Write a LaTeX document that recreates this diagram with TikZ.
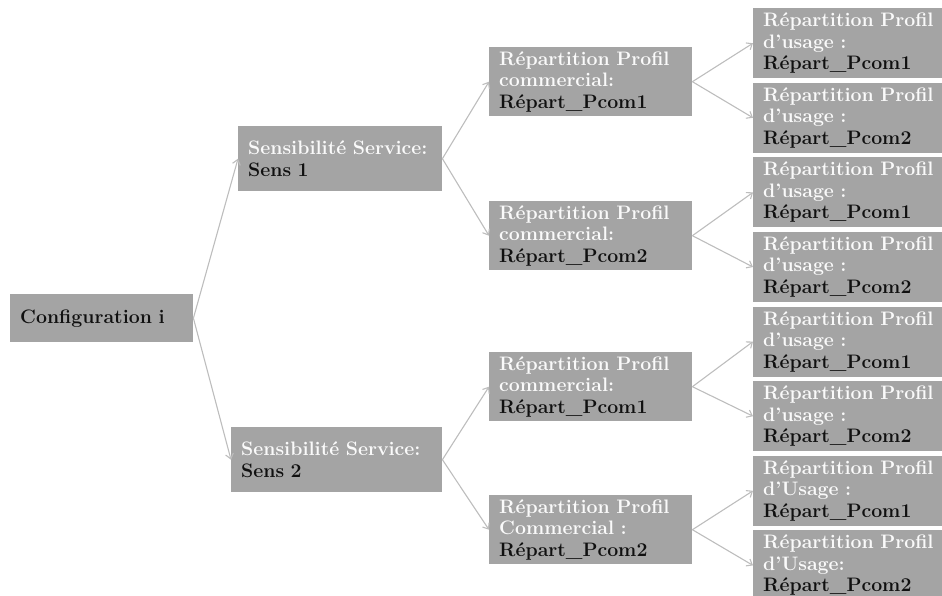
\documentclass[tikz,border=0pt]{standalone}
\usetikzlibrary{arrows.meta}
\definecolor{boxgrey}{HTML}{A4A4A4}
\definecolor{linkgrey}{HTML}{BDBDBD}
\definecolor{textwhite}{HTML}{FAFAFA}
\definecolor{textblack}{HTML}{101010}
\begin{document}
\begin{tikzpicture}[x=1pt,y=-1pt,
  treebox/.style={fill=boxgrey,anchor=north west,inner xsep=10pt,inner ysep=0pt,
    align=left,text=textblack,font=\fontsize{19.5}{21.5}\selectfont\bfseries},
  link/.style={draw=linkgrey,line width=1.1pt,-{Straight Barb[length=5pt,width=8pt]}}]
  \useasboundingbox (0,0) rectangle (942,596);
  % root and first level
  \node[treebox,text width=163pt,minimum height=48pt] (config) at (10,294) {Configuration i};
  \node[treebox,text width=184pt,minimum height=65pt] (sens1) at (238,126)
    {\textcolor{textwhite}{Sensibilité Service:}\\Sens 1};
  \node[treebox,text width=191pt,minimum height=65pt] (sens2) at (231,427)
    {\textcolor{textwhite}{Sensibilité Service:}\\Sens 2};
  % second level
  \foreach \r/\ytop/\kind/\pcom in {1/47/commercial:/1,2/201/commercial:/2,
                                     3/352/commercial:/1,4/495/Commercial :/2} {
    \node[treebox,text width=183pt,minimum height=69pt] (rep\r) at (489,\ytop)
      {{\color{textwhite}Répartition Profil\\\kind}\\Répart\_Pcom\pcom};
  }
  % third level
  \foreach \i/\kind/\pcom in {1/d’usage :/1,2/d’usage :/2,3/d’usage :/1,4/d’usage :/2,
                              5/d’usage :/1,6/d’usage :/2,7/d’Usage :/1,8/d’Usage:/2} {
    \pgfmathsetmacro{\ytop}{8+74.6*(\i-1)}
    \node[treebox,text width=172pt,minimum height=70pt] (use\i) at (753,\ytop)
      {{\color{textwhite}Répartition Profil\\\kind}\\Répart\_Pcom\pcom};
  }
  % connectors
  \draw[link] (config.east) -- (sens1.west);
  \draw[link] (config.east) -- (sens2.west);
  \foreach \s/\a/\b in {sens1/1/2,sens2/3/4} {
    \draw[link] (\s.east) -- (rep\a.west);
    \draw[link] (\s.east) -- (rep\b.west);
  }
  \foreach \r/\a/\b in {1/1/2,2/3/4,3/5/6,4/7/8} {
    \draw[link] (rep\r.east) -- (use\a.west);
    \draw[link] (rep\r.east) -- (use\b.west);
  }
\end{tikzpicture}
\end{document}
